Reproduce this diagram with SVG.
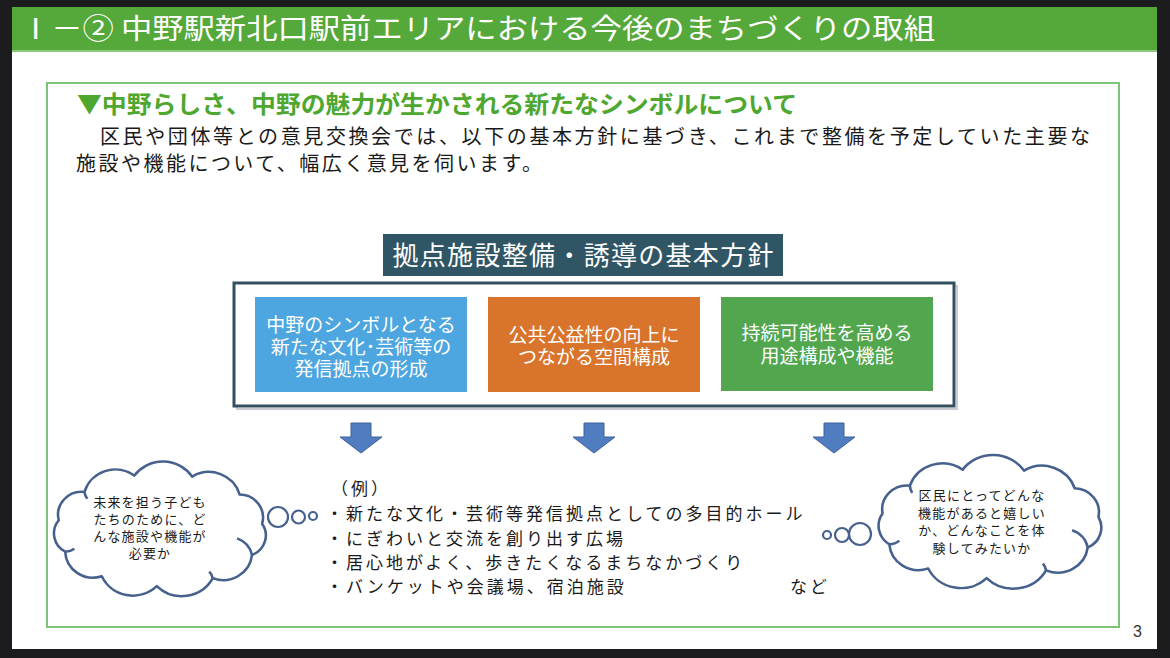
<svg xmlns="http://www.w3.org/2000/svg" width="1170" height="658" viewBox="0 0 1170 658">
<style>
.jp{font-family:"Noto Sans CJK JP","Noto Sans CJK SC",sans-serif;}
.wt{fill:#ffffff;}
.bk{fill:#1a1a1a;}
.box-t{font-size:19px;fill:#ffffff;text-anchor:middle;}
.ex{font-size:17px;fill:#1a1a1a;letter-spacing:3px;}
.cl{font-size:13px;fill:#1a1a1a;text-anchor:middle;letter-spacing:1.2px;}
.cloud{fill:#ffffff;stroke:#46618d;stroke-width:2.4;stroke-linejoin:round;}
.curl{fill:none;stroke:#46618d;stroke-width:2.4;}
.bub{fill:#ffffff;stroke:#46618d;stroke-width:2.2;}
.arr{fill:#4f7dbf;stroke:#3d6399;stroke-width:1;}
</style>
<rect x="0" y="0" width="1170" height="658" fill="#1c1c1e"/>
<rect x="12" y="7" width="1145" height="642" fill="#ffffff"/>
<g id="header">
<rect x="12" y="7" width="1145" height="45" fill="#55a83a"/>
<rect x="12" y="50" width="1145" height="2" fill="#8fc77c"/>
<text class="jp wt" x="20" y="39" font-size="28" textLength="915" lengthAdjust="spacingAndGlyphs">Ⅰ－② 中野駅新北口駅前エリアにおける今後のまちづくりの取組</text>
</g>
<g id="content-frame">
<rect x="47" y="83" width="1072" height="544" fill="none" stroke="#7cc576" stroke-width="2"/>
</g>
<g id="heading">
<text class="jp" x="77" y="113" font-size="24" font-weight="bold" fill="#4ea72e" textLength="720" lengthAdjust="spacingAndGlyphs">▼中野らしさ、中野の魅力が生かされる新たなシンボルについて</text>
</g>
<g id="intro">
<text class="jp bk" x="100" y="143.5" font-size="20" textLength="990" lengthAdjust="spacing">区民や団体等との意見交換会では、以下の基本方針に基づき、これまで整備を予定していた主要な</text>
<text class="jp bk" x="76" y="171" font-size="20" textLength="466" lengthAdjust="spacing">施設や機能について、幅広く意見を伺います。</text>
</g>
<g id="policy-title">
<rect x="383" y="234" width="400" height="42" fill="#305565"/>
<text class="jp wt" x="583" y="264.5" font-size="26" text-anchor="middle" textLength="381" lengthAdjust="spacing">拠点施設整備・誘導の基本方針</text>
</g>
<g id="policy-frame">
<rect x="237" y="286" width="720" height="123" fill="none" stroke="#c8ccd0" stroke-width="2"/>
<rect x="234" y="283" width="720" height="123" fill="#ffffff" stroke="#34505e" stroke-width="3"/>
</g>
<g id="box-symbol">
<rect x="255" y="297" width="212" height="95" fill="#4da6e0"/>
<text class="jp box-t" x="361" y="332">中野のシンボルとなる</text>
<text class="jp box-t" x="361" y="354">新たな文化･芸術等の</text>
<text class="jp box-t" x="361" y="376">発信拠点の形成</text>
</g>
<g id="box-public">
<rect x="488" y="297" width="212" height="95" fill="#d8742c"/>
<text class="jp box-t" x="594" y="342">公共公益性の向上に</text>
<text class="jp box-t" x="594" y="364">つながる空間構成</text>
</g>
<g id="box-sustain">
<rect x="721" y="297" width="212" height="94" fill="#52a64e"/>
<text class="jp box-t" x="827" y="340">持続可能性を高める</text>
<text class="jp box-t" x="827" y="363">用途構成や機能</text>
</g>
<g id="connectors">
<polygon class="arr" points="351,423 371,423 371,437 382,437 361,453 340,437 351,437"/>
<polygon class="arr" points="584,423 604,423 604,437 615,437 594,453 573,437 584,437"/>
<polygon class="arr" points="824,423 844,423 844,437 855,437 834,453 813,437 824,437"/>
</g>
<g id="examples">
<text class="jp ex" x="331" y="494.5">（例）</text>
<text class="jp ex" x="326" y="519.5">・新たな文化・芸術等発信拠点としての多目的ホール</text>
<text class="jp ex" x="326" y="544.5">・にぎわいと交流を創り出す広場</text>
<text class="jp ex" x="326" y="568.5">・居心地がよく、歩きたくなるまちなかづくり</text>
<text class="jp ex" x="326" y="592.5">・バンケットや会議場、宿泊施設</text>
<text class="jp ex" x="790" y="592.5">など</text>
</g>
<g id="cloud-left">
<g transform="translate(160,530) scale(1.07,1.04) translate(-160,-530)">
<path class="cloud" d="M65.4,520.6 A22,22 0 0 1 89.4,493.4 A30,30 0 0 1 136,477.7 A33,33 0 0 1 190,478.7 A30,30 0 0 1 234.5,495.9 A22,22 0 0 1 255.4,524 A20,20 0 0 1 246,554 A27,27 0 0 1 209.3,576.3 A33,33 0 0 1 157,584 A32,32 0 0 1 105.6,574.5 A26,26 0 0 1 71.4,550.8 A20,20 0 0 1 65.4,520.6 Z"/>
<path class="curl" d="M71.4,550.8 A14,14 0 0 0 80,548"/>
<path class="curl" d="M246,554 A22,22 0 0 0 232,538"/>
<path class="curl" d="M89.4,493.4 A14,14 0 0 0 92,500"/>
<path class="curl" d="M209.3,576.3 A12,12 0 0 0 206,570"/>
</g>
<circle class="bub" cx="278" cy="517" r="10"/>
<circle class="bub" cx="298.5" cy="517" r="6.5"/>
<circle class="bub" cx="313" cy="516" r="4"/>
<text class="jp cl" x="150" y="507">未来を担う子ども</text>
<text class="jp cl" x="150" y="524">たちのために、ど</text>
<text class="jp cl" x="150" y="541">んな施設や機能が</text>
<text class="jp cl" x="150" y="558">必要か</text>
</g>
<g id="cloud-right">
<g transform="translate(990,523) scale(1.08,1.04) translate(-990,-523)">
<path class="cloud" d="M890.5,513.8 A23,23 0 0 1 915.8,487.1 A32,32 0 0 1 964.7,471.7 A35,35 0 0 1 1021.5,472.6 A32,32 0 0 1 1068.4,489.6 A23,23 0 0 1 1090.4,517.1 A21,21 0 0 1 1080.5,546.6 A28,28 0 0 1 1041.9,568.5 A35,35 0 0 1 986.9,576 A34,34 0 0 1 932.8,566.7 A27,27 0 0 1 896.8,543.5 A21,21 0 0 1 890.5,513.8 Z"/>
<path class="curl" d="M896.8,543.5 A14,14 0 0 0 906,540"/>
<path class="curl" d="M1080.5,546.6 A22,22 0 0 0 1066,530"/>
<path class="curl" d="M915.8,487.1 A14,14 0 0 0 918,494"/>
<path class="curl" d="M1041.9,568.5 A12,12 0 0 0 1039,562"/>
</g>
<circle class="bub" cx="860" cy="534" r="11"/>
<circle class="bub" cx="842" cy="535" r="7"/>
<circle class="bub" cx="827" cy="535" r="4"/>
<text class="jp cl" x="982" y="500">区民にとってどんな</text>
<text class="jp cl" x="982" y="517.5">機能があると嬉しい</text>
<text class="jp cl" x="982" y="535">か、どんなことを体</text>
<text class="jp cl" x="982" y="552.5">験してみたいか</text>
</g>
<g id="page-number">
<text x="1133" y="637" font-family="Liberation Sans, sans-serif" font-size="16" fill="#333333">3</text>
</g>
</svg>
